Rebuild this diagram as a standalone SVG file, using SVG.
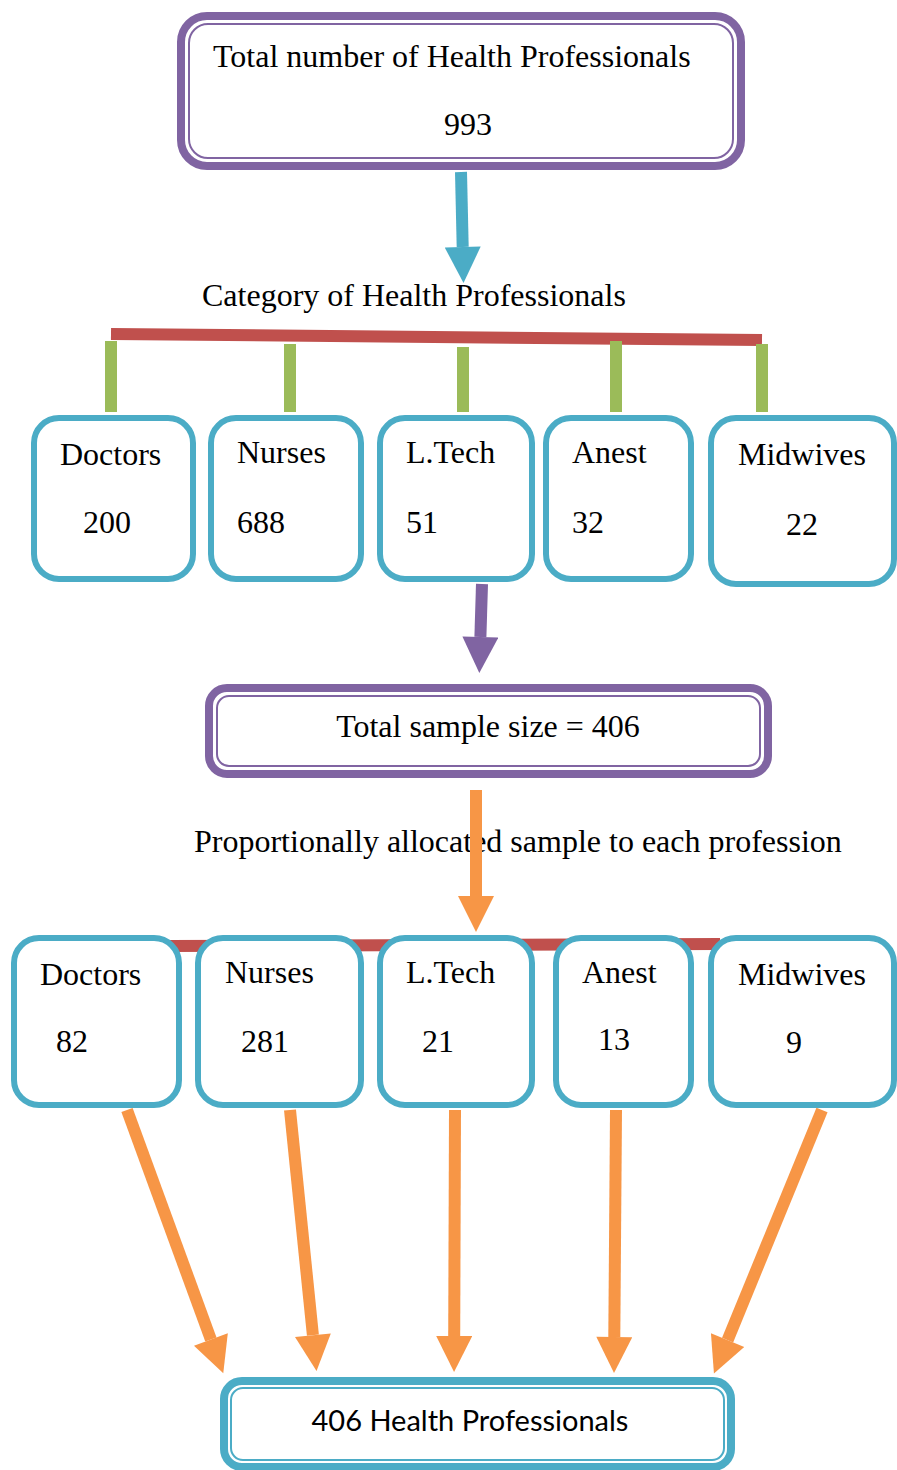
<svg xmlns="http://www.w3.org/2000/svg" width="897" height="1470" viewBox="0 0 897 1470">
<style>
text{font-family:"Liberation Serif","Times New Roman",serif;font-size:32px;fill:#000}
.sans{font-family:Lato,"Liberation Sans",sans-serif;font-size:29px}
.pu{fill:#fff;stroke:#8064A2}
.bl{fill:#fff;stroke:#4BACC6}
.cat{fill:#fff;stroke:#4BACC6;stroke-width:6}
.thin{fill:none;stroke-width:2}
.thick{stroke-width:8}
.ar{stroke-width:12;fill:none}
</style>
<defs>
<marker id="hb" viewBox="0 0 10 10" refX="0" refY="5" markerWidth="3.4" markerHeight="3" orient="auto"><path d="M0,0L10,5L0,10z" fill="#4BACC6"/></marker>
<marker id="hp" viewBox="0 0 10 10" refX="0" refY="5" markerWidth="3.4" markerHeight="3" orient="auto"><path d="M0,0L10,5L0,10z" fill="#8064A2"/></marker>
<marker id="ho" viewBox="0 0 10 10" refX="0" refY="5" markerWidth="3.4" markerHeight="3" orient="auto"><path d="M0,0L10,5L0,10z" fill="#F79646"/></marker>
</defs>

<g id="bars">
<line x1="111" y1="334" x2="762" y2="340" stroke="#C0504D" stroke-width="12"/>
<g stroke="#9BBB59" stroke-width="12">
<line x1="111" y1="341" x2="111" y2="412"/>
<line x1="290" y1="344" x2="290" y2="412"/>
<line x1="463" y1="347" x2="463" y2="412"/>
<line x1="616" y1="341" x2="616" y2="412"/>
<line x1="762" y1="344" x2="762" y2="412"/>
</g>
<line x1="170" y1="946" x2="720" y2="944" stroke="#C0504D" stroke-width="12"/>
</g>

<g id="total">
<rect class="pu thick" x="181" y="16" width="560" height="150" rx="26"/>
<rect class="pu thin" x="189" y="24" width="544" height="134" rx="19"/>
<text x="213" y="67">Total number of Health Professionals</text>
<text x="468" y="135" text-anchor="middle">993</text>
</g>

<text id="category-label" x="202" y="306">Category of Health Professionals</text>

<g id="doctors1"><rect class="cat" x="34" y="418" width="159" height="161" rx="25"/><text x="60" y="465">Doctors</text><text x="83" y="533">200</text></g>
<g id="nurses1"><rect class="cat" x="211" y="418" width="150" height="161" rx="25"/><text x="237" y="463">Nurses</text><text x="237" y="533">688</text></g>
<g id="ltech1"><rect class="cat" x="380" y="418" width="152" height="161" rx="25"/><text x="406" y="463">L.Tech</text><text x="406" y="533">51</text></g>
<g id="anest1"><rect class="cat" x="546" y="418" width="145" height="161" rx="25"/><text x="572" y="463">Anest</text><text x="572" y="533">32</text></g>
<g id="midwives1"><rect class="cat" x="711" y="418" width="183" height="166" rx="25"/><text x="738" y="465">Midwives</text><text x="786" y="535">22</text></g>

<g id="sample">
<rect class="pu thick" x="209" y="688" width="559" height="86" rx="18"/>
<rect class="pu thin" x="217" y="696" width="543" height="70" rx="12"/>
<text x="488" y="737" text-anchor="middle">Total sample size = 406</text>
</g>

<text id="alloc-label" x="194" y="852">Proportionally allocated sample to each profession</text>

<g id="doctors2"><rect class="cat" x="14" y="938" width="165" height="167" rx="25"/><text x="40" y="985">Doctors</text><text x="56" y="1052">82</text></g>
<g id="nurses2"><rect class="cat" x="198" y="938" width="163" height="167" rx="25"/><text x="225" y="983">Nurses</text><text x="241" y="1052">281</text></g>
<g id="ltech2"><rect class="cat" x="380" y="938" width="152" height="167" rx="25"/><text x="406" y="983">L.Tech</text><text x="422" y="1052">21</text></g>
<g id="anest2"><rect class="cat" x="556" y="938" width="135" height="167" rx="25"/><text x="582" y="983">Anest</text><text x="598" y="1050">13</text></g>
<g id="midwives2"><rect class="cat" x="711" y="938" width="183" height="167" rx="25"/><text x="738" y="985">Midwives</text><text x="786" y="1053">9</text></g>

<g id="result">
<rect class="bl thick" x="224" y="1381" width="507" height="86" rx="18"/>
<rect class="bl thin" x="231" y="1388" width="493" height="72" rx="12"/>
<text class="sans" x="470" y="1431" text-anchor="middle">406 Health Professionals</text>
</g>

<g id="connectors">
<line class="ar" x1="461" y1="172" x2="462.7" y2="247" stroke="#4BACC6" marker-end="url(#hb)"/>
<line class="ar" x1="482" y1="584" x2="480.4" y2="637" stroke="#8064A2" marker-end="url(#hp)"/>
<line class="ar" x1="476" y1="790" x2="476" y2="896" stroke="#F79646" marker-end="url(#ho)"/>
<line class="ar" x1="127" y1="1110" x2="210.9" y2="1339.5" stroke="#F79646" marker-end="url(#ho)"/>
<line class="ar" x1="290" y1="1110" x2="312.9" y2="1335.2" stroke="#F79646" marker-end="url(#ho)"/>
<line class="ar" x1="455" y1="1110" x2="454.2" y2="1336" stroke="#F79646" marker-end="url(#ho)"/>
<line class="ar" x1="616" y1="1110" x2="614.3" y2="1337" stroke="#F79646" marker-end="url(#ho)"/>
<line class="ar" x1="822" y1="1110" x2="727.6" y2="1340.1" stroke="#F79646" marker-end="url(#ho)"/>
</g>
</svg>
